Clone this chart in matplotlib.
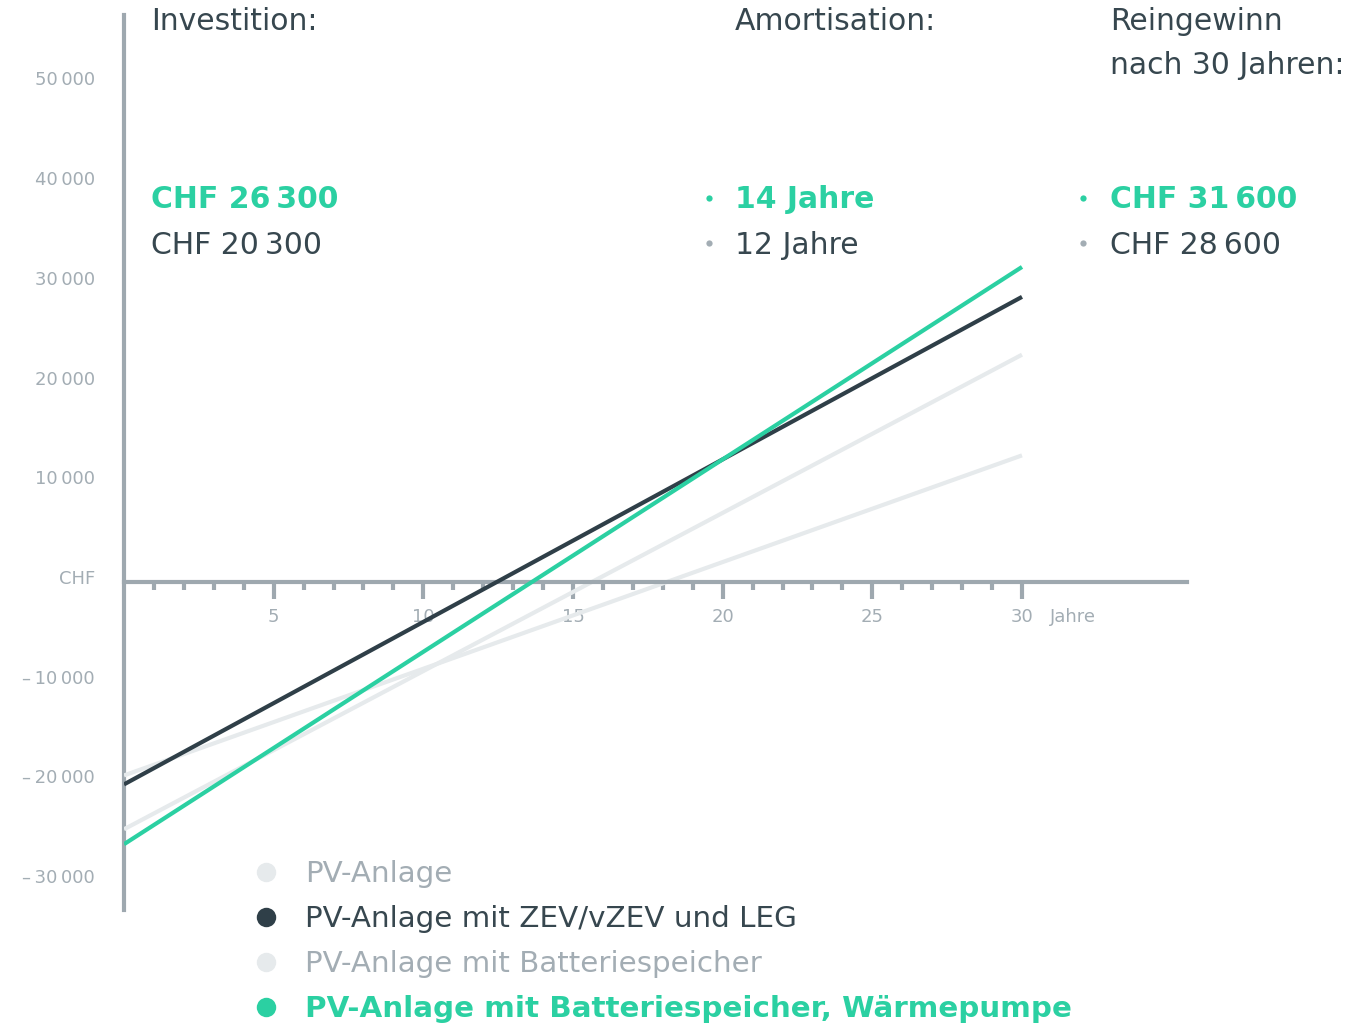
import matplotlib
matplotlib.use("Agg")
import matplotlib.pyplot as plt
import matplotlib.transforms as mtransforms
from matplotlib.lines import Line2D

# cumulative net result (CHF) at year 0 and year 30
years = [0, 30]
pv_basic = [-19400, 12700]
pv_zev = [-20300, 28600]
pv_battery = [-24800, 22800]
pv_battery_hp = [-26300, 31600]

series_names = ["PV-Anlage", "PV-Anlage mit ZEV/vZEV und LEG",
                "PV-Anlage mit Batteriespeicher",
                "PV-Anlage mit Batteriespeicher, Wärmepumpe"]

y_ticks = [50000, 40000, 30000, 20000, 10000, 0, -10000, -20000, -30000]
y_ticklabels = ["50\u2009000", "40\u2009000", "30\u2009000", "20\u2009000",
                "10\u2009000", "CHF", "\u2013\u200910\u2009000",
                "\u2013\u200920\u2009000", "\u2013\u200930\u2009000"]
x_major = [5, 10, 15, 20, 25, 30]

invest = ["CHF 26\u2009300", "CHF 20\u2009300"]
payback = ["14 Jahre", "12 Jahre"]
profit = ["CHF 31\u2009600", "CHF 28\u2009600"]

GREEN = "#2bd0a2"
DARK = "#2f3f48"
LIGHT = "#e6eaec"
AXIS = "#9ea8af"
TEXT = "#37474f"
TICK = "#a3adb4"

plt.rcParams["font.family"] = ["DejaVu Sans"]

W, H = 1358, 1023
fig = plt.figure(figsize=(W / 100, H / 100), dpi=100)
x0, x1 = 124, 1187
ytop, ybot = 15, 910
ax = fig.add_axes([x0 / W, (H - ybot) / H, (x1 - x0) / W, (ybot - ytop) / H])
px_year = (1022 - 124) / 30
px_chf = 9.97 / 1000
ax.set_xlim(0, (x1 - x0) / px_year)
ax.set_ylim(-(ybot - 582) / px_chf, (582 - ytop) / px_chf)

for s in ["top", "right"]:
    ax.spines[s].set_visible(False)
ax.spines["left"].set_color(AXIS)
ax.spines["left"].set_linewidth(3)
ax.spines["bottom"].set_position(("data", 0))
ax.spines["bottom"].set_color(AXIS)
ax.spines["bottom"].set_linewidth(3)
ax.spines["left"].set_zorder(1)

tick_fs = 13
ax.set_xticks(x_major)
ax.set_xticks([v for v in range(1, 31) if v % 5], minor=True)
ax.tick_params(axis="x", which="major", direction="out", length=12,
               width=3, color=AXIS, labelsize=tick_fs, labelcolor=TICK, pad=7)
ax.tick_params(axis="x", which="minor", direction="out", length=6,
               width=3, color=AXIS)
ax.set_yticks(y_ticks)
ax.set_yticklabels(y_ticklabels)
ax.tick_params(axis="y", length=0, labelsize=tick_fs, labelcolor=TICK, pad=21)
up = mtransforms.ScaledTranslation(0, 5 / 100, fig.dpi_scale_trans)
for lab in ax.get_yticklabels():
    lab.set_transform(lab.get_transform() + up)
ax.text(31, 0, "Jahre", fontsize=tick_fs, color=TICK,
        ha="left", va="center").set_transform(
    ax.transData + mtransforms.ScaledTranslation(-0.02, -0.35, fig.dpi_scale_trans))

ax.plot(years, pv_basic, color=LIGHT, lw=3, solid_capstyle="butt", zorder=2)
ax.plot(years, pv_battery, color=LIGHT, lw=3, solid_capstyle="butt", zorder=2)
ax.plot(years, pv_zev, color=DARK, lw=3, solid_capstyle="butt", zorder=3)
ax.plot(years, pv_battery_hp, color=GREEN, lw=3, solid_capstyle="butt", zorder=4)


# key figures above the plot
def fx(px):
    return px / W


def fy(py):
    return 1 - py / H


fs = 21.5
fig.text(fx(151), fy(21), "Investition:", fontsize=fs, color=TEXT, va="center")
fig.text(fx(735), fy(21), "Amortisation:", fontsize=fs, color=TEXT, va="center")
fig.text(fx(1110), fy(21), "Reingewinn", fontsize=fs, color=TEXT, va="center")
fig.text(fx(1110), fy(66), "nach 30 Jahren:", fontsize=fs, color=TEXT, va="center")
for col, vals in [(151, invest), (735, payback), (1110, profit)]:
    fig.text(fx(col), fy(200), vals[0], fontsize=fs, color=GREEN,
             fontweight="bold", va="center")
    fig.text(fx(col), fy(245), vals[1], fontsize=fs, color=TEXT, va="center")
for bx in [709, 1083]:
    fig.lines.append(Line2D([fx(bx)], [fy(198)], marker="o", ms=4.5, color=GREEN,
                            mec="none", transform=fig.transFigure))
    fig.lines.append(Line2D([fx(bx)], [fy(243)], marker="o", ms=4.5, color=TICK,
                            mec="none", transform=fig.transFigure))

# legend
dot_colors = [LIGHT, DARK, LIGHT, GREEN]
text_colors = [TICK, TEXT, TICK, GREEN]
handles = [Line2D([], [], ls="none", marker="o", ms=14, color=c, mec="none")
           for c in dot_colors]
leg = fig.legend(handles, series_names, loc="upper left",
                 bbox_to_anchor=(fx(251), fy(860)), frameon=False,
                 fontsize=21.2, handletextpad=0.85, labelspacing=0.58,
                 handlelength=1.0, borderpad=0, borderaxespad=0)
for t, c in zip(leg.get_texts(), text_colors):
    t.set_color(c)
leg.get_texts()[-1].set_fontweight("bold")

fig.savefig("out.png", dpi=100)
